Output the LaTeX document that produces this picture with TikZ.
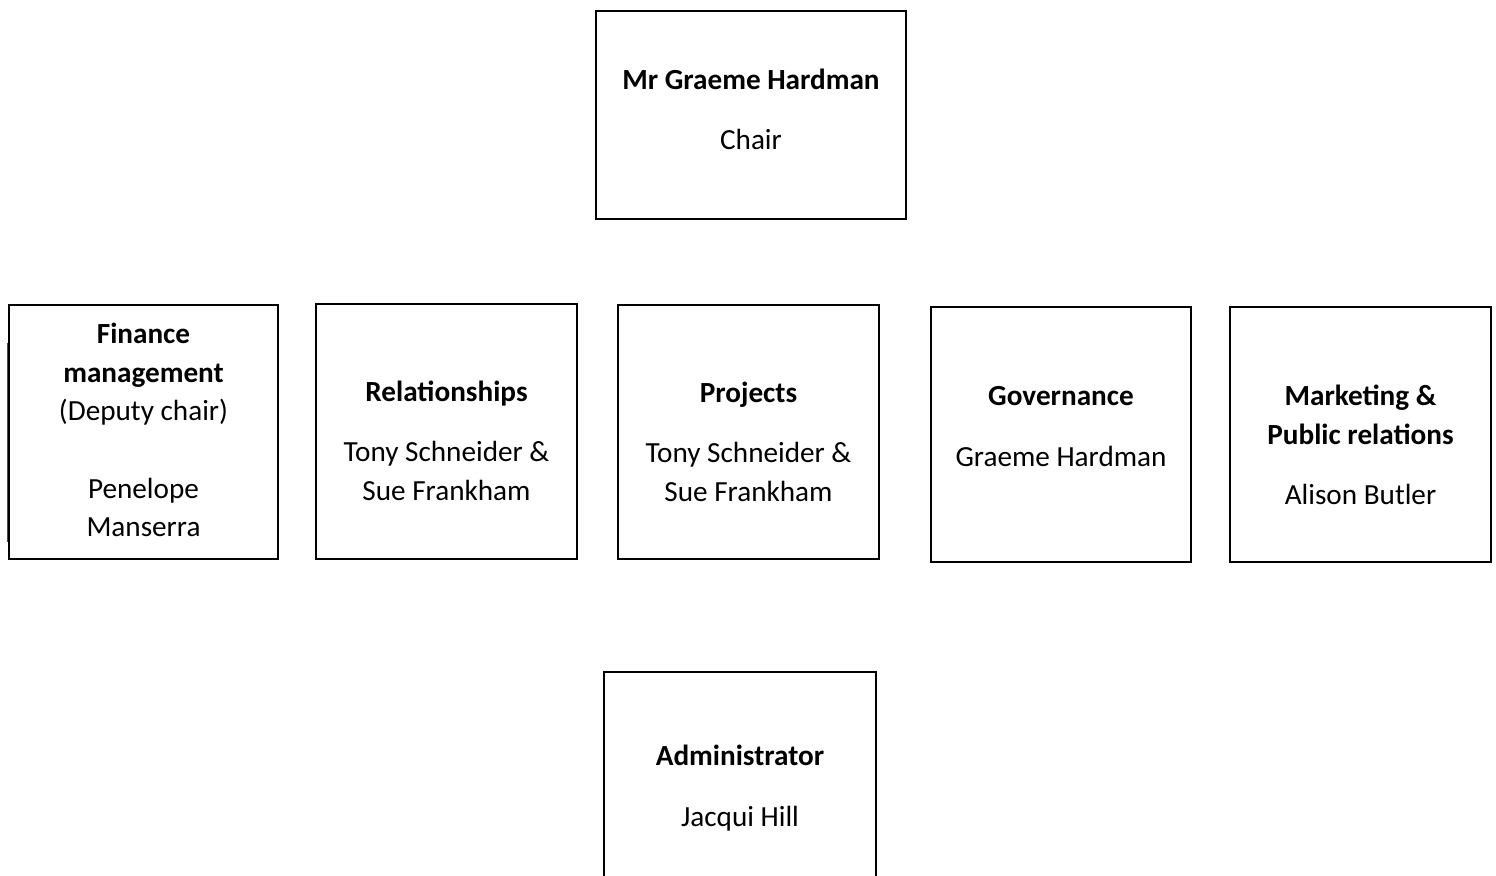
\documentclass[tikz,border=0pt]{standalone}
\usepackage{fontspec}
\setmainfont{Carlito}
\usepackage{tikz}

\tikzset{
  box/.style={draw=black,line width=0.6pt,inner sep=0pt},
  head/.style={anchor=base,yshift=-1pt,font=\fontsize{14.6}{19.5}\selectfont\bfseries,inner sep=0pt},
  person/.style={anchor=base,yshift=-1pt,font=\fontsize{14.6}{19.5}\selectfont,inner sep=0pt},
}

\begin{document}
\begin{tikzpicture}[x=0.5pt,y=-0.5pt]

  \clip (0,0) rectangle (1496,876);
  \fill[white] (0,0) rectangle (1496,876);

  % chair
  \node[box,minimum width=155pt,minimum height=104pt] (chair) at (751,115) {};
  \node[head] (chairhead) at (751,88) {Mr Graeme Hardman};
  \node[person] (chairname) at (751,148) {Chair};

  % finance
  \node[box,minimum width=134.5pt,minimum height=127pt] (finance) at (143.5,432) {};
  \draw[black!70,line width=0.35pt] (7.5,343) -- (7.5,542);
  \node[head] (finhead1) at (143.5,342) {Finance};
  \node[head] (finhead2) at (143.5,381) {management};
  \node[person] (finrole) at (143.5,419) {(Deputy chair)};
  \node[person] (finname1) at (143.5,497) {Penelope};
  \node[person] (finname2) at (143.5,535) {Manserra};

  % relationships
  \node[box,minimum width=130.5pt,minimum height=127.5pt] (relations) at (446.5,431.5) {};
  \node[head] (relhead) at (446.5,400) {Relationships};
  \node[person] (relname1) at (446.5,460) {Tony Schneider \&};
  \node[person] (relname2) at (446.5,499) {Sue Frankham};

  % projects
  \node[box,minimum width=130.5pt,minimum height=127pt] (projects) at (748.5,432) {};
  \node[head] (prohead) at (748.5,401) {Projects};
  \node[person] (proname1) at (748.5,461) {Tony Schneider \&};
  \node[person] (proname2) at (748.5,500) {Sue Frankham};

  % governance
  \node[box,minimum width=130pt,minimum height=127.5pt] (governance) at (1061,434.5) {};
  \node[head] (govhead) at (1061,404) {Governance};
  \node[person] (govname) at (1061,465) {Graeme Hardman};

  % marketing
  \node[box,minimum width=130.5pt,minimum height=127.5pt] (marketing) at (1360.5,434.5) {};
  \node[head] (markhead1) at (1360.5,404) {Marketing \&};
  \node[head] (markhead2) at (1360.5,443) {Public relations};
  \node[person] (markname) at (1360.5,503) {Alison Butler};

  % administrator
  \node[box,minimum width=136pt,minimum height=114pt] (admin) at (740,786) {};
  \node[head] (adminhead) at (740,764) {Administrator};
  \node[person] (adminname) at (740,825) {Jacqui Hill};

\end{tikzpicture}
\end{document}
